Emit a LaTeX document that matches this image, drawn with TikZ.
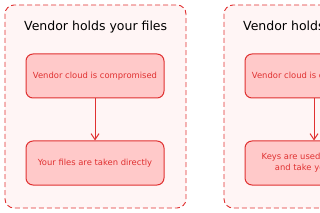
\documentclass[tikz,border=0pt]{standalone}
\usepackage{fontspec}
\setmainfont{DejaVu Sans}
\usetikzlibrary{arrows.meta}
\definecolor{redline}{HTML}{E03131}
\definecolor{boxfill}{HTML}{FFC9C9}
\definecolor{groupfill}{HTML}{FFF5F5}
\begin{document}
\begin{tikzpicture}[x=1pt,y=-1pt,
  group/.style={draw=redline, fill=groupfill, dashed, dash pattern=on 5pt off 3pt, line width=0.9pt, rounded corners=9pt},
  stepbox/.style={draw=redline, fill=boxfill, line width=1pt, rounded corners=7pt, minimum width=138pt, minimum height=44pt, text=redline, font=\fontsize{8.4}{11}\selectfont, align=center, inner sep=0pt},
  title/.style={font=\fontsize{12.5}{15}\selectfont, text=black, anchor=west, inner sep=0pt},
  link/.style={draw=redline, line width=1pt, -{Straight Barb[length=6pt,width=8pt]}}]
\useasboundingbox (0,0) rectangle (320,213);
% left group
\path[group] (5,5) rectangle (186,208);
\node[title] (t1) at (24,27) {Vendor holds your files};
\node[stepbox] (a1) at (95,76) {Vendor cloud is compromised};
\node[stepbox] (b1) at (95,163) {Your files are taken directly};
\draw[link] (a1.south) -- (b1.north);
% right group
\path[group] (224,5) rectangle (405,208);
\node[title] (t2) at (243,27) {Vendor holds your keys};
\node[stepbox] (a2) at (314,76) {Vendor cloud is compromised};
\node[stepbox] (b2) at (314,163) {Keys are used to decrypt\\and take your files};
\draw[link] (a2.south) -- (b2.north);
\end{tikzpicture}
\end{document}
